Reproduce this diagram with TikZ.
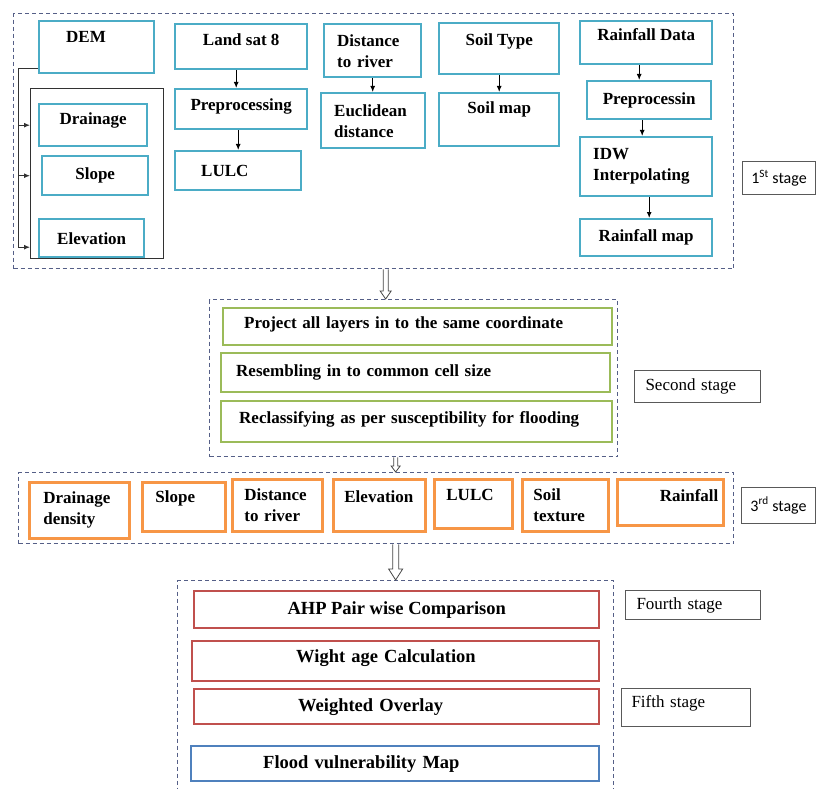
\documentclass[tikz,border=0pt]{standalone}
\usepackage{fontspec}
\setmainfont{Liberation Serif}
\newfontfamily\calibfont{Carlito}
\usetikzlibrary{arrows.meta,positioning,calc}
\definecolor{tealc}{RGB}{75,172,198}
\definecolor{greenc}{RGB}{155,187,89}
\definecolor{orangec}{RGB}{247,150,70}
\definecolor{redc}{RGB}{192,80,77}
\definecolor{bluec}{RGB}{79,129,189}
\definecolor{dashc}{RGB}{85,95,135}
\definecolor{linec}{RGB}{50,50,50}
% hollow block arrow: start, end, half stem, head length, half head
\newcommand{\hollowarr}[5]{\draw[hollow] ($(#1)+(-#3,0)$) -- ($(#2)+(-#3,-#4)$) -- ($(#2)+(-#5,-#4)$) -- (#2) -- ($(#2)+(#5,-#4)$) -- ($(#2)+(#3,-#4)$) -- ($(#1)+(#3,0)$);}

\begin{document}
\begin{tikzpicture}[
  x=1pt, y=-1pt,
  sz/.style 2 args={minimum width=#1pt, minimum height=#2pt},
  box/.style={anchor=north west, line width=2.4pt, inner sep=3pt, align=center, font=\bfseries\fontsize{17}{21}\selectfont},
  tealbox/.style={box, draw=tealc},
  greenbox/.style={box, draw=greenc},
  orangebox/.style={box, draw=orangec, line width=2.8pt, fill=white},
  redbox/.style={box, draw=redc, font=\bfseries\fontsize{18.5}{22}\selectfont},
  bluebox/.style={box, draw=bluec, font=\bfseries\fontsize{18.5}{22}\selectfont},
  grpbox/.style={anchor=north west, draw=linec, line width=1pt},
  stagebox/.style={anchor=north west, draw=dashc, line width=1.3pt, dash pattern=on 4pt off 3pt},
  labbox/.style={anchor=north west, draw=gray!70!black, line width=1pt, inner sep=3pt, align=center, font=\fontsize{17}{20}\selectfont},
  railline/.style={draw=linec, line width=1pt},
  tip/.style={-{Latex[length=6pt,width=5pt]}},
  arr/.style={draw=black, line width=1pt, -{Latex[length=6pt,width=5pt]}},
  hollow/.style={draw=gray!55!black, line width=0.8pt, fill=white, line join=miter}
]
\useasboundingbox (0,0) rectangle (819,789);

% stage frames
\node[stagebox, sz={720}{255}] (st1) at (13,13) {};
\node[stagebox, sz={408}{157}] (st2) at (209,299) {};
\node[stagebox, sz={715}{71}] (st3) at (18,472) {};
\node[stagebox, sz={436}{230}] (st4) at (177,580) {};

% 1st stage
\node[tealbox, sz={115}{52}, align=left, inner xsep=27pt, text width=61pt, text depth=20pt] (dem) at (38,20) {DEM};
\node[grpbox, sz={133}{170}] (grp) at (30,88) {};
\node[tealbox, sz={108}{42}, text depth=13.6pt] (drain) at (38,103) {Drainage};
\node[tealbox, sz={106}{39}] (slope) at (41,155) {Slope};
\node[tealbox, sz={105}{38}] (elev) at (38,218) {Elevation};

\node[tealbox, sz={132}{45}, text depth=14.6pt] (landsat) at (174,23) {Land sat 8};
\node[tealbox, sz={132}{40}, text depth=9.6pt] (prep1) at (174,88) {Preprocessing};
\node[tealbox, sz={126}{39}, align=left, inner xsep=26pt, text width=74pt] (lulc) at (174,150) {LULC};

\node[tealbox, sz={97}{53}, align=left, inner xsep=13pt, text width=71pt] (dist) at (323,23) {Distance\\to river};
\node[tealbox, sz={104}{55}, align=left, inner xsep=13pt, text width=78pt] (eucl) at (320,92) {Euclidean\\distance};

\node[tealbox, sz={120}{51}, text depth=18.6pt] (soilt) at (438,22) {Soil Type};
\node[tealbox, sz={120}{53}, text depth=24.6pt] (soilm) at (438,92) {Soil map};

\node[tealbox, sz={132}{43}, text depth=16.6pt] (rain) at (579,20) {Rainfall Data};
\node[tealbox, sz={124}{38}] (prep2) at (586,80) {Preprocessin};
\node[tealbox, sz={132}{59}, align=left, inner xsep=13pt, text width=106pt] (idw) at (579,136) {IDW\\Interpolating};
\node[tealbox, sz={132}{37}] (rmap) at (579,218) {Rainfall map};

\node[labbox, sz={73}{33}, font=\calibfont\fontsize{16}{19}\selectfont] (lab1) at (742,161) {1\textsuperscript{St} stage};

\coordinate (rail) at (18,69);
\coordinate (elevtap) at ([yshift=-9pt]elev.west);
\draw[railline, tip] (rail -| dem.west) -- (rail) |- (elevtap -| grp.west);
\draw[railline, tip] (rail |- drain.west) -- (drain.west -| grp.west);
\draw[railline, tip] (rail |- slope.west) -- (slope.west -| grp.west);

\draw[arr] ([xshift=-5pt]landsat.south) -- ([xshift=-5pt]landsat.south |- prep1.north);
\draw[arr] (prep1.south -| lulc.north) -- (lulc.north);
\draw[arr] (dist.south) -- (dist.south |- eucl.north);
\draw[arr] (soilt) -- (soilm);
\draw[arr] ([xshift=-7pt]rain.south) -- ([xshift=-7pt]rain.south |- prep2.north);
\draw[arr] ([xshift=-7pt]prep2.south) -- ([xshift=-7pt]prep2.south |- idw.north);
\draw[arr] ([xshift=3pt]idw.south) -- ([xshift=3pt]idw.south |- rmap.north);

% second stage
\node[greenbox, sz={389}{37}, align=left, inner xsep=21pt, text width=347pt, text depth=8.6pt] (proj) at (222,307) {Project all layers in to the same coordinate};
\node[greenbox, sz={389}{39}, align=left, inner xsep=15pt, text width=359pt] (resm) at (220,352) {Resembling in to common cell size};
\node[greenbox, sz={391}{41}, align=left, inner xsep=18pt, text width=355pt, text depth=8.6pt] (recl) at (220,400) {Reclassifying as per susceptibility for flooding};
\node[labbox, sz={126}{32}, align=left, inner xsep=11pt, text width=104pt] (lab2) at (634,370) {Second stage};

% 3rd stage
\node[orangebox, sz={100}{56}, align=left, inner xsep=14pt, text width=72pt] (dd) at (28,481) {Drainage\\density};
\node[orangebox, sz={83}{49}, align=left, inner xsep=13pt, text width=57pt, text depth=20.6pt] (sl) at (141,481) {Slope};
\node[orangebox, sz={90}{52}, align=left, inner xsep=12pt, text width=66pt] (dr) at (231,478) {Distance\\to river};
\node[orangebox, sz={92}{52}, align=left, inner xsep=11pt, text width=70pt, text depth=17.6pt] (el) at (332,478) {Elevation};
\node[orangebox, sz={78}{49}, align=left, inner xsep=12pt, text width=54pt, text depth=18.6pt] (lu) at (433,478) {LULC};
\node[orangebox, sz={86}{52}, align=left, inner xsep=11pt, text width=64pt] (stx) at (521,478) {Soil\\texture};
\node[orangebox, sz={106}{46}, align=right, inner xsep=5pt, text width=96pt, text depth=13.6pt] (rf) at (616,478) {Rainfall};
\node[labbox, sz={74}{36}, font=\calibfont\fontsize{16}{19}\selectfont] (lab3) at (741,487) {3\textsuperscript{rd} stage};

% fourth and fifth stage
\node[redbox, sz={405}{37}] (ahp) at (193,590) {AHP Pair wise Comparison};
\node[redbox, sz={407}{40}, align=left, inner xsep=104pt, text width=199pt, text depth=9.6pt] (wc) at (191,640) {Wight age Calculation};
\node[redbox, sz={405}{35}, align=left, inner xsep=104pt, text width=197pt] (wo) at (193,688) {Weighted Overlay};
\node[bluebox, sz={408}{35}, align=left, inner xsep=72pt, text width=264pt] (fvm) at (190,745) {Flood vulnerability Map};
\node[labbox, sz={135}{29}, align=left, inner xsep=11pt, text width=113pt] (lab4) at (625,590) {Fourth stage};
\node[labbox, sz={129}{38}, align=left, inner xsep=10pt, text width=109pt, text depth=11.6pt] (lab5) at (621,688) {Fifth stage};

% stage links
\coordinate (a1s) at ([xshift=12pt]st1.south);
\coordinate (a2s) at ([xshift=-18pt]st2.south);
\coordinate (a3s) at (st3.south -| st4.north);
\coordinate (a1e) at (a1s |- st2.north);
\coordinate (a2e) at (a2s |- st3.north);
\coordinate (a3e) at (st4.north);
\hollowarr{a1s}{a1e}{2.5}{8}{5.5}
\hollowarr{a2s}{a2e}{2}{6}{4.5}
\hollowarr{a3s}{a3e}{3}{11}{7}
\end{tikzpicture}
\end{document}
